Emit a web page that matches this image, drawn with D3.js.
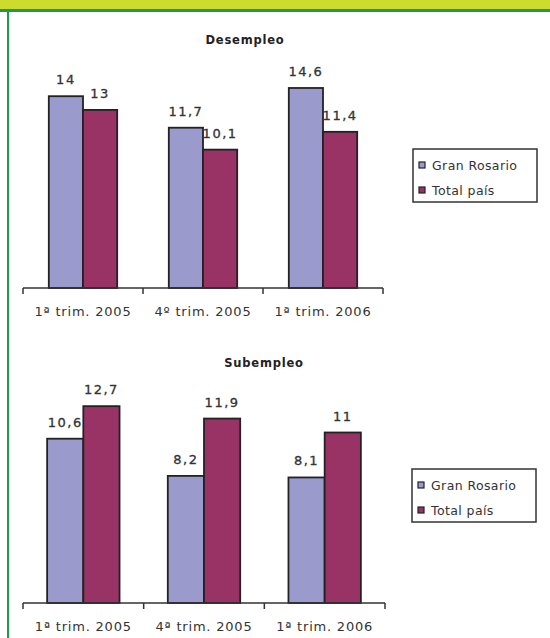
<!DOCTYPE html>
<html>
<head>
<meta charset="utf-8">
<script src="https://cdn.jsdelivr.net/npm/d3@7"></script>
<style>
  body { margin: 0; background: #fff; }
  svg { display: block; font-family: "DejaVu Sans", Verdana, sans-serif; }
</style>
</head>
<body>
<script>
// chart values
var series = ['Gran Rosario', 'Total país'];
var colors = ['#9a9acc', '#993366'];

var catsDesempleo = ['1ª trim. 2005', '4º trim. 2005', '1ª trim. 2006'];
var rosarioDesempleo = [14, 11.7, 14.6];
var paisDesempleo = [13, 10.1, 11.4];

var catsSubempleo = ['1ª trim. 2005', '4ª trim. 2005', '1ª trim. 2006'];
var rosarioSubempleo = [10.6, 8.2, 8.1];
var paisSubempleo = [12.7, 11.9, 11];

var fmt = function(v) { return String(v).replace('.', ','); };

var svg = d3.select('body').append('svg')
  .attr('width', 550)
  .attr('height', 638);

// frame: yellow band on top, green rule, green left border
svg.append('rect').attr('x', 0).attr('y', 0).attr('width', 550).attr('height', 9).attr('fill', '#cddc2c');
svg.append('rect').attr('x', 0).attr('y', 9).attr('width', 550).attr('height', 3).attr('fill', '#1e9a50');
svg.append('rect').attr('x', 7).attr('y', 9).attr('width', 2).attr('height', 629).attr('fill', '#1e9a50');

function draw_chart(opts) {
  var g = svg.append('g');

  var x = d3.scaleBand()
    .domain(opts.cats)
    .range([opts.x0, opts.x1])
    .paddingInner(opts.pad)
    .paddingOuter(opts.pad / 2);

  var xs = d3.scaleBand().domain(series).range([0, x.bandwidth()]);

  var y = d3.scaleLinear()
    .domain([0, 1])
    .range([opts.base, opts.base - opts.pxPerUnit]);

  var rows = opts.cats.map(function(c, i) {
    return { cat: c, values: [opts.a[i], opts.b[i]] };
  });

  g.append('text')
    .attr('x', opts.titleX)
    .attr('y', opts.titleY)
    .attr('text-anchor', 'middle')
    .style('font-size', '11.5px')
    .style('font-weight', 'bold')
    .style('letter-spacing', '0.8px')
    .attr('fill', '#222')
    .text(opts.title);

  var grp = g.selectAll('g.cat')
    .data(rows)
    .enter()
    .append('g')
    .attr('class', 'cat')
    .attr('transform', function(d) { return 'translate(' + x(d.cat) + ',0)'; });

  grp.selectAll('rect')
    .data(function(d) { return d.values; })
    .enter()
    .append('rect')
    .attr('x', function(d, i) { return xs(series[i]); })
    .attr('width', xs.bandwidth())
    .attr('y', function(d) { return y(d); })
    .attr('height', function(d) { return opts.base - y(d); })
    .attr('fill', function(d, i) { return colors[i]; })
    .attr('stroke', '#222')
    .attr('stroke-width', 1.8);

  grp.selectAll('text.val')
    .data(function(d) { return d.values; })
    .enter()
    .append('text')
    .attr('class', 'val')
    .attr('x', function(d, i) { return xs(series[i]) + xs.bandwidth() / 2; })
    .attr('y', function(d) { return y(d) - 12; })
    .attr('text-anchor', 'middle')
    .style('font-size', '13px')
    .style('letter-spacing', '1.5px')
    .attr('fill', '#333')
    .attr('stroke', '#333')
    .attr('stroke-width', 0.3)
    .text(function(d) { return fmt(d); });

  // category axis, ticks between groups
  var axis = g.append('g').attr('transform', 'translate(0,' + opts.base + ')');
  axis.append('line')
    .attr('x1', opts.x0).attr('x2', opts.x1)
    .attr('stroke', '#333').attr('stroke-width', 1.5);
  var edges = [opts.x0].concat(opts.cats.map(function(c) { return x(c) + x.bandwidth() + x.step() * x.paddingInner() / 2; }));
  edges[edges.length - 1] = opts.x1;
  axis.selectAll('line.tick')
    .data(edges)
    .enter()
    .append('line')
    .attr('class', 'tick')
    .attr('x1', function(d) { return d; }).attr('x2', function(d) { return d; })
    .attr('y1', 0).attr('y2', 6)
    .attr('stroke', '#333').attr('stroke-width', 1.5);
  axis.selectAll('text')
    .data(opts.cats)
    .enter()
    .append('text')
    .attr('x', function(d) { return x(d) + x.bandwidth() / 2; })
    .attr('y', 28)
    .attr('text-anchor', 'middle')
    .style('font-size', '13px')
    .style('letter-spacing', '0.8px')
    .attr('fill', '#333')
    .text(function(d) { return d; });

  // legend
  var lg = g.append('g').attr('transform', 'translate(' + opts.legX + ',' + opts.legY + ')');
  lg.append('rect')
    .attr('x', 0).attr('y', 0).attr('width', 124).attr('height', 53)
    .attr('fill', '#fff').attr('stroke', '#333').attr('stroke-width', 1.5);
  var item = lg.selectAll('g.item')
    .data(series)
    .enter()
    .append('g')
    .attr('class', 'item')
    .attr('transform', function(d, i) { return 'translate(6,' + (17 + i * 25) + ')'; });
  item.append('rect')
    .attr('x', 0).attr('y', -4).attr('width', 6).attr('height', 6)
    .attr('fill', function(d, i) { return colors[i]; })
    .attr('stroke', '#222').attr('stroke-width', 1.2);
  item.append('text')
    .attr('x', 13).attr('y', 4)
    .style('font-size', '12.5px')
    .style('letter-spacing', '0.4px')
    .attr('fill', '#333')
    .text(function(d) { return d; });
}

draw_chart({
  title: 'Desempleo', titleX: 245, titleY: 44,
  cats: catsDesempleo, a: rosarioDesempleo, b: paisDesempleo,
  x0: 23, x1: 383, base: 288, pxPerUnit: 13.7, pad: 0.43,
  legX: 413, legY: 149
});

draw_chart({
  title: 'Subempleo', titleX: 264, titleY: 367,
  cats: catsSubempleo, a: rosarioSubempleo, b: paisSubempleo,
  x0: 23, x1: 385, base: 603, pxPerUnit: 15.5, pad: 0.4,
  legX: 412, legY: 469
});
</script>
</body>
</html>
